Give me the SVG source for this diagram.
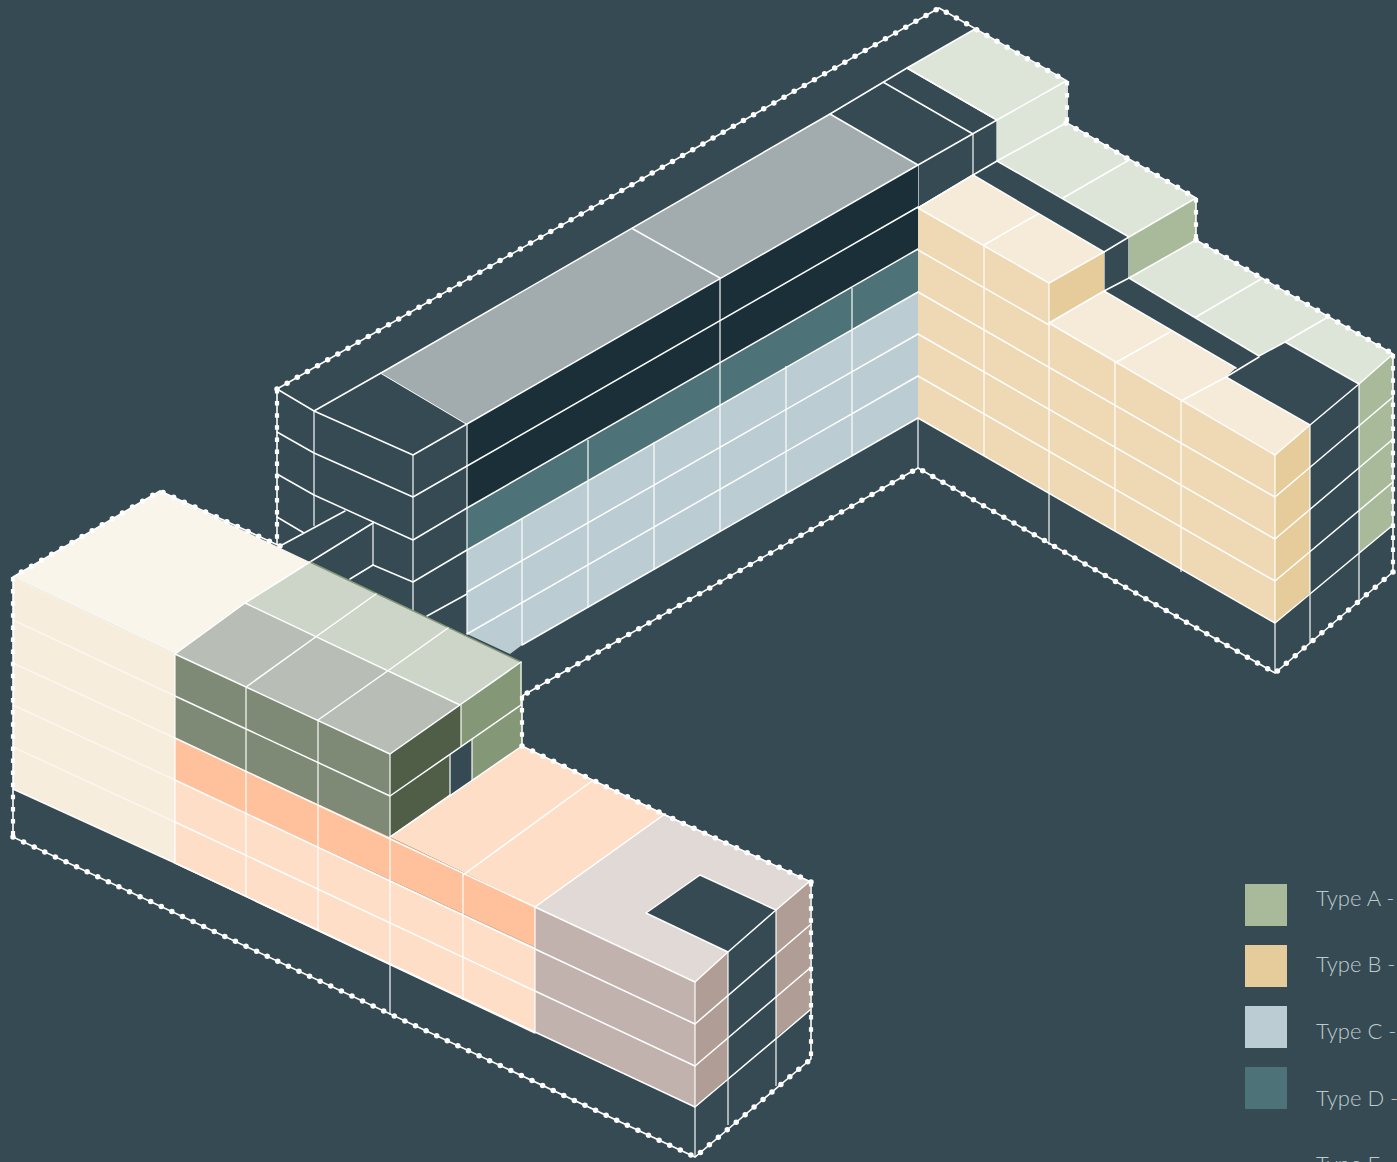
<svg xmlns="http://www.w3.org/2000/svg" width="1397" height="1162" viewBox="0 0 1397 1162">
<style>
.l{fill:none;stroke:#fff;stroke-width:1.5;stroke-linecap:round;stroke-linejoin:round}
.v{fill:none;stroke:#fff;stroke-width:1.6;opacity:.72}
.f{fill:none;stroke:#fff;stroke-width:1.4;opacity:.55}
.dl{fill:none;stroke:#fff;stroke-width:1.6}
.dd{fill:none;stroke:#fff;stroke-width:5.5;stroke-linecap:round;stroke-dasharray:0 11.7}
.ds{fill:none;stroke:#fff;stroke-width:4.2;stroke-dasharray:4.5 7.6}
.t{font-family:"Lato","Liberation Sans",sans-serif;font-size:22px;font-weight:300;fill:#bfcace}
</style>
<rect width="1397" height="1162" fill="#354a53"/>
<g id="block-upper-wire">
<path class="l" d="M277 389L314 411L381 373L467 424L413 455L314 411M277 432L314 453L413 497L467 466M277 474L314 495L413 540L467 508M277 517L304 533M413 582L467 550M314 495L413 540M413 582L373 565L350 579M280 546L345 511M310 562L373 523M467 594L427 616"/>
<path class="v" d="M314 411V526M413 455V612M373 523V565"/>
<path class="l" d="M830 114L907 68M883 82L973 134M907 68L997 120M918 165L997 120M973 175L997 161M918 208L973 175M1104 252L1129 237M1104 291L1129 278"/>
<path class="v" d="M918 165V208M973 134V175M997 120V161M1129 237V278M1104 252V291"/>
</g>
<g id="block-central">
<polygon points="381,373 830,114 918,165 467,424" fill="#a2abae"/>
<polygon points="467,424 918,165 918,250 467,508" fill="#1a2f38"/>
<polygon points="467,508 918,250 918,292 467,550" fill="#4d7278"/>
<polygon points="467,550 918,292 918,418 522,645 510,654 467,634" fill="#bbcdd2"/>
<path class="l" d="M381 373L830 114L918 165L467 424L918 165M633 229L720 278M467 466L918 207M467 508L918 249M467 550L918 292M467 592L918 334M467 634L918 376M522 645L918 418"/>
<path class="v" d="M467 424V634M720 278V532M852 288V456M786 366V494M654 442V570M588 440V608M522 519V645"/>
</g>
<g id="block-sage">
<polygon points="975,29 1066,81 997,120 907,68" fill="#dde5d8"/>
<polygon points="997,120 1066,81 1066,123 997,161" fill="#dde5d8"/>
<polygon points="997,161 1066,123 1196,198 1129,237" fill="#dde5d8"/>
<polygon points="1129,237 1196,198 1196,240 1129,278" fill="#a8ba99"/>
<polygon points="1129,278 1196,240 1393,354 1359,384 1285,342 1259,356" fill="#dde5d8"/>
<polygon points="1359,384 1393,354 1393,525 1359,553" fill="#a8ba99"/>
<path class="l" d="M907 68L975 29M907 68L997 120L1066 81M997 161L1066 123M997 161L1129 237L1196 198M1063 198L1129 160M1129 278L1196 240M1129 278L1259 356L1285 342L1359 384L1393 354M1196 317L1261 279M1285 342L1328 317"/>
</g>
<g id="block-tan">
<polygon points="918,208 973,175 1104,252 1049,283" fill="#f6ebd9"/>
<polygon points="1049,323 1104,291 1236,368 1226,377 1310,425 1275,455" fill="#f6ebd9"/>
<polygon points="918,208 1049,283 1049,323 1275,455 1275,623 918,418" fill="#eed9b4"/>
<polygon points="1049,283 1104,252 1104,291 1049,323" fill="#e6cc9b"/>
<polygon points="1275,455 1310,425 1310,593 1275,623" fill="#e6cc9b"/>
<path class="l" d="M918 208L973 175L1104 252L1049 283L918 208M984 245L1038 214M1049 323L1104 291L1236 368M1049 323L1275 455L1310 425L1226 377L1259 357M1115 363L1170 332M1181 401L1226 377M918 250L1049 325M918 292L1275 497M918 334L1275 539M918 376L1275 581M918 418L1275 623M1275 497L1393 397M1275 539L1393 439M1275 581L1393 482M1275 623L1393 525M1275 455L1310 425M1310 425L1359 384"/>
<path class="v" d="M984 245V456M1049 283V545M1115 363V531M1181 401V572M1275 455V673M1310 425V643M1359 384V603M918 418V468"/>
</g>
<g id="boundary-upper">
<path class="dl" d="M277 545V389L939 8L1067 81V123L1196 198V240L1393 354V572L1275 673L918 468L522 696"/>
<path class="dd" d="M277 389L939 8L1066 81M1066 123L1196 198M1196 240L1393 354M1393 572L1275 673L918 468L522 696"/>
<path class="ds" d="M277 389V545M1067 81V123M1196 198V240M1393 354V572"/>
</g>
<g id="block-cream">
<polygon points="13,577 160,491 310,562 175,654" fill="#f9f5ea"/>
<polygon points="13,577 175,654 175,863 13,789" fill="#f7eddc"/>
<path class="f" d="M13 577L175 654M13 620L175 696M13 663L175 738M13 705L175 780M13 747L175 822"/>
<path class="l" d="M13 789L175 863"/>
</g>
<g id="block-olive">
<polygon points="175,654 245,603 460,705 390,754" fill="#b8bdb5"/>
<polygon points="245,603 310,562 521,662 460,705" fill="#cdd4c8"/>
<polygon points="175,654 390,754 390,837 175,738" fill="#7e8a75"/>
<polygon points="390,754 461,705 461,746 450,754 450,795 390,837" fill="#505e48"/>
<polygon points="461,705 521,662 521,747 472,780 472,739 461,746" fill="#849877"/>
<path d="M310 562L521 662V747" fill="none" stroke="#849877" stroke-width="1.5"/>
<path class="l" d="M175 654L245 603L310 562M245 603L460 705M175 654L390 754L521 662M246 687L317 636L376 594M318 720L389 670L448 628M175 696L390 796L521 705M390 837L450 795"/>
<path class="v" d="M246 687V771M318 720V804M390 754V837M461 705V746M450 754V795M472 739V780M521 662V705"/>
</g>
<g id="block-peach">
<polygon points="390,837 522,746 665,814 535,907" fill="#fedec6"/>
<polygon points="175,738 390,837 535,907 535,947 175,780" fill="#fec19c"/>
<polygon points="175,780 535,947 535,1033 175,863" fill="#fedec7"/>
<path class="l" d="M175 738L535 907L665 814M390 837L522 746M463 875L592 781M175 780L535 949M175 822L535 991M175 863L535 1033"/>
<path class="v" d="M175 654V863M246 771V897M318 804V930M390 837V1015M463 875V1000"/>
</g>
<g id="block-rose">
<polygon points="535,907 665,814 810,881 776,910 700,875 646,913 728,952 695,982" fill="#e0d9d6"/>
<polygon points="535,907 695,982 695,1107 535,1033" fill="#c2b2ad"/>
<polygon points="695,982 728,952 728,1078 695,1107" fill="#b09d95"/>
<polygon points="776,910 810,881 810,1010 776,1037" fill="#b09d95"/>
<path class="l" d="M665 814L535 907L695 982L728 952L646 913L700 875L776 910L810 881M728 952L776 910M535 949L695 1024L810 925M535 991L695 1066L810 968M175 863L695 1107L810 1010"/>
<path class="v" d="M535 907V1033M695 982V1157M728 952V1125M776 910V1086"/>
</g>
<g id="boundary-lower">
<path class="dl" d="M280 546L160 491L13 577V837L695 1157L811 1059V882L665 815M522 696V746L665 815"/>
<path class="dd" d="M280 546L160 491L13 577M13 837L695 1157L811 1059M811 882L665 815M522 746L665 815"/>
<path class="ds" d="M13 577V837M811 882V1059M522 696V746"/>
</g>
<g id="legend">
<rect x="1245" y="884" width="42" height="42" fill="#a8ba99"/>
<rect x="1245" y="945" width="42" height="42" fill="#e6cc9b"/>
<rect x="1245" y="1006" width="42" height="42" fill="#bbcdd2"/>
<rect x="1245" y="1067" width="42" height="42" fill="#4d7278"/>
<text class="t" x="1316" y="906">Type A -</text>
<text class="t" x="1316" y="972">Type B -</text>
<text class="t" x="1316" y="1039">Type C -</text>
<text class="t" x="1316" y="1106">Type D -</text>
<text class="t" x="1316" y="1172">Type E</text>
</g>
</svg>
